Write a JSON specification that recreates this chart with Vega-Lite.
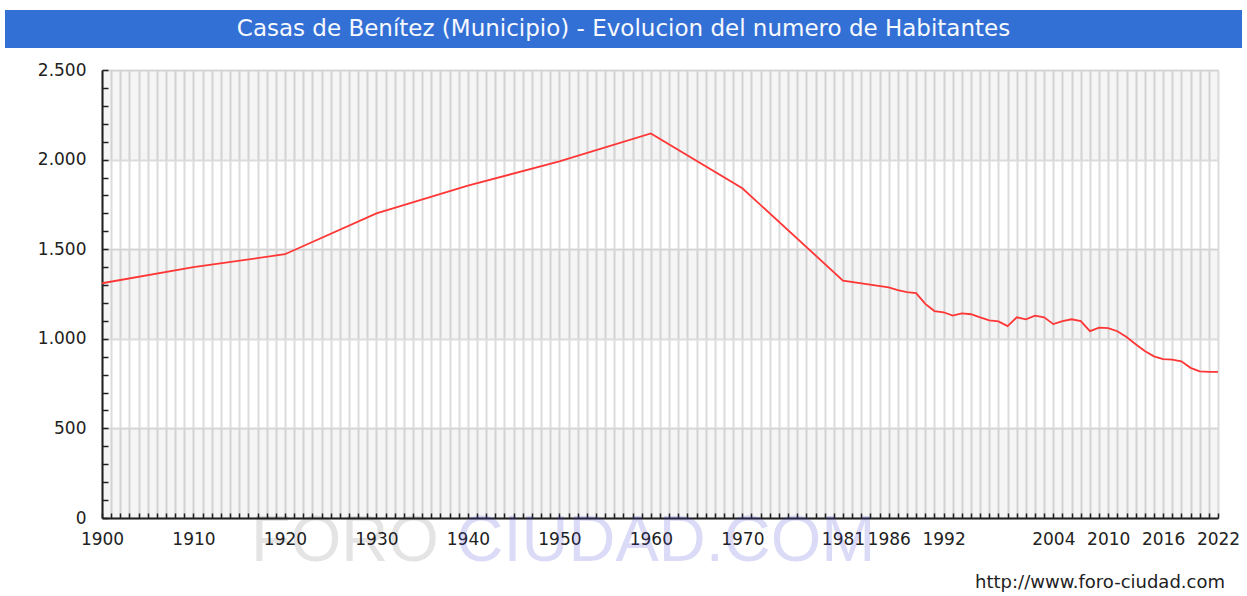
{
  "$schema": "https://vega.github.io/schema/vega-lite/v6.json",
  "background": "white",
  "padding": {"left": 5, "right": 5, "top": 10, "bottom": 0},
  "config": {
    "view": {"stroke": null},
    "axis": {
      "labelFont": "DejaVu Sans",
      "labelFontSize": 17,
      "labelColor": "#222222",
      "domainColor": "#222222",
      "domainWidth": 2,
      "tickColor": "#222222",
      "tickWidth": 1.5,
      "gridColor": "#dcdcdc",
      "gridWidth": 2,
      "title": null
    }
  },
  "datasets": {
    "titulo": [{"texto": "Casas de Benítez (Municipio) - Evolucion del numero de Habitantes"}],
    "bandas": [{"desde": 0, "hasta": 500}, {"desde": 1000, "hasta": 1500}, {"desde": 2000, "hasta": 2500}],
    "poblacion": [
      {"anio": 1900, "habitantes": 1310},
      {"anio": 1910, "habitantes": 1400},
      {"anio": 1920, "habitantes": 1472},
      {"anio": 1930, "habitantes": 1700},
      {"anio": 1940, "habitantes": 1855},
      {"anio": 1950, "habitantes": 1990},
      {"anio": 1960, "habitantes": 2146},
      {"anio": 1970, "habitantes": 1840},
      {"anio": 1981, "habitantes": 1325},
      {"anio": 1986, "habitantes": 1287},
      {"anio": 1987, "habitantes": 1272},
      {"anio": 1988, "habitantes": 1260},
      {"anio": 1989, "habitantes": 1255},
      {"anio": 1990, "habitantes": 1195},
      {"anio": 1991, "habitantes": 1155},
      {"anio": 1992, "habitantes": 1148},
      {"anio": 1993, "habitantes": 1129},
      {"anio": 1994, "habitantes": 1142},
      {"anio": 1995, "habitantes": 1137},
      {"anio": 1996, "habitantes": 1120},
      {"anio": 1997, "habitantes": 1103},
      {"anio": 1998, "habitantes": 1097},
      {"anio": 1999, "habitantes": 1071},
      {"anio": 2000, "habitantes": 1120},
      {"anio": 2001, "habitantes": 1109},
      {"anio": 2002, "habitantes": 1129},
      {"anio": 2003, "habitantes": 1120},
      {"anio": 2004, "habitantes": 1082},
      {"anio": 2005, "habitantes": 1099},
      {"anio": 2006, "habitantes": 1109},
      {"anio": 2007, "habitantes": 1099},
      {"anio": 2008, "habitantes": 1043},
      {"anio": 2009, "habitantes": 1062},
      {"anio": 2010, "habitantes": 1060},
      {"anio": 2011, "habitantes": 1042},
      {"anio": 2012, "habitantes": 1010},
      {"anio": 2013, "habitantes": 970},
      {"anio": 2014, "habitantes": 932},
      {"anio": 2015, "habitantes": 902},
      {"anio": 2016, "habitantes": 886},
      {"anio": 2017, "habitantes": 884},
      {"anio": 2018, "habitantes": 874},
      {"anio": 2019, "habitantes": 838},
      {"anio": 2020, "habitantes": 818},
      {"anio": 2021, "habitantes": 815},
      {"anio": 2022, "habitantes": 815}
    ]
  },
  "title": {
    "text": "http://www.foro-ciudad.com",
    "orient": "bottom",
    "anchor": "end",
    "font": "DejaVu Sans",
    "fontSize": 18,
    "fontWeight": "normal",
    "color": "#222222",
    "offset": 0,
    "dx": -17
  },
  "columns": 1,
  "align": "none",
  "spacing": 13,
  "concat": [
    {
      "width": 1237,
      "height": 38,
      "view": {"fill": "#3370d6", "stroke": null},
      "data": {"name": "titulo"},
      "mark": {"type": "text", "color": "#f7f9fd", "fontSize": 23, "font": "DejaVu Sans"},
      "encoding": {"text": {"field": "texto", "type": "nominal"}}
    },
    {
      "spacing": 0,
      "hconcat": [
        {
          "width": 1,
          "height": 1,
          "view": {"fill": "white", "stroke": null},
          "data": {"values": []},
          "mark": "point"
        },
        {
          "width": 1116,
          "height": 448,
          "layer": [
            {
              "data": {"name": "bandas"},
              "mark": {"type": "rect", "color": "#000000", "opacity": 0.04},
              "encoding": {
                "y": {
                  "field": "desde",
                  "type": "quantitative",
                  "scale": {"domain": [0, 2500], "nice": false, "zero": true},
                  "axis": {
                    "title": null,
                    "values": [0, 100, 200, 300, 400, 500, 600, 700, 800, 900, 1000, 1100, 1200, 1300, 1400, 1500, 1600, 1700, 1800, 1900, 2000, 2100, 2200, 2300, 2400, 2500],
                    "tickCount": 40,
                    "labelExpr": "datum.value % 500 === 0 ? replace(format(datum.value, ','), ',', '.') : ''",
                    "gridOpacity": {"condition": {"test": "datum.value % 500 === 0", "value": 1}, "value": 0},
                    "tickSize": -6,
                    "labelPadding": 22,
                    "minExtent": 96,
                    "labelOverlap": false
                  }
                },
                "y2": {"field": "hasta"}
              }
            },
            {
              "data": {"name": "poblacion"},
              "mark": {"type": "line", "color": "#ff3636", "strokeWidth": 1.8},
              "encoding": {
                "x": {
                  "field": "anio",
                  "type": "quantitative",
                  "scale": {"domain": [1900, 2022], "nice": false, "zero": false},
                  "axis": {
                    "title": null,
                    "values": [1900,1901,1902,1903,1904,1905,1906,1907,1908,1909,1910,1911,1912,1913,1914,1915,1916,1917,1918,1919,1920,1921,1922,1923,1924,1925,1926,1927,1928,1929,1930,1931,1932,1933,1934,1935,1936,1937,1938,1939,1940,1941,1942,1943,1944,1945,1946,1947,1948,1949,1950,1951,1952,1953,1954,1955,1956,1957,1958,1959,1960,1961,1962,1963,1964,1965,1966,1967,1968,1969,1970,1971,1972,1973,1974,1975,1976,1977,1978,1979,1980,1981,1982,1983,1984,1985,1986,1987,1988,1989,1990,1991,1992,1993,1994,1995,1996,1997,1998,1999,2000,2001,2002,2003,2004,2005,2006,2007,2008,2009,2010,2011,2012,2013,2014,2015,2016,2017,2018,2019,2020,2021,2022],
                    "tickCount": 200,
                    "labelExpr": "indexof([1900,1910,1920,1930,1940,1950,1960,1970,1981,1986,1992,2004,2010,2016,2022], datum.value) >= 0 ? format(datum.value, 'd') : ''",
                    "labelOverlap": false,
                    "labelFlush": false,
                    "tickSize": -5,
                    "labelPadding": 18
                  }
                },
                "y": {"field": "habitantes", "type": "quantitative", "title": null}
              }
            },
            {
              "data": {"values": [{"marca": "FORO"}]},
              "mark": {"type": "text", "font": "Liberation Sans", "fontSize": 65, "color": "#000000", "opacity": 0.1, "baseline": "alphabetic", "align": "center"},
              "encoding": {
                "x": {"datum": 1926.56, "type": "quantitative"},
                "y": {"datum": -240, "type": "quantitative"},
                "text": {"field": "marca", "type": "nominal"}
              }
            },
            {
              "data": {"values": [{"marca": "CIUDAD.COM"}]},
              "mark": {"type": "text", "font": "Liberation Sans", "fontSize": 65, "color": "#3c3cdc", "opacity": 0.18, "baseline": "alphabetic", "align": "center"},
              "encoding": {
                "x": {"datum": 1961.65, "type": "quantitative"},
                "y": {"datum": -240, "type": "quantitative"},
                "text": {"field": "marca", "type": "nominal"}
              }
            }
          ]
        }
      ]
    }
  ]
}
